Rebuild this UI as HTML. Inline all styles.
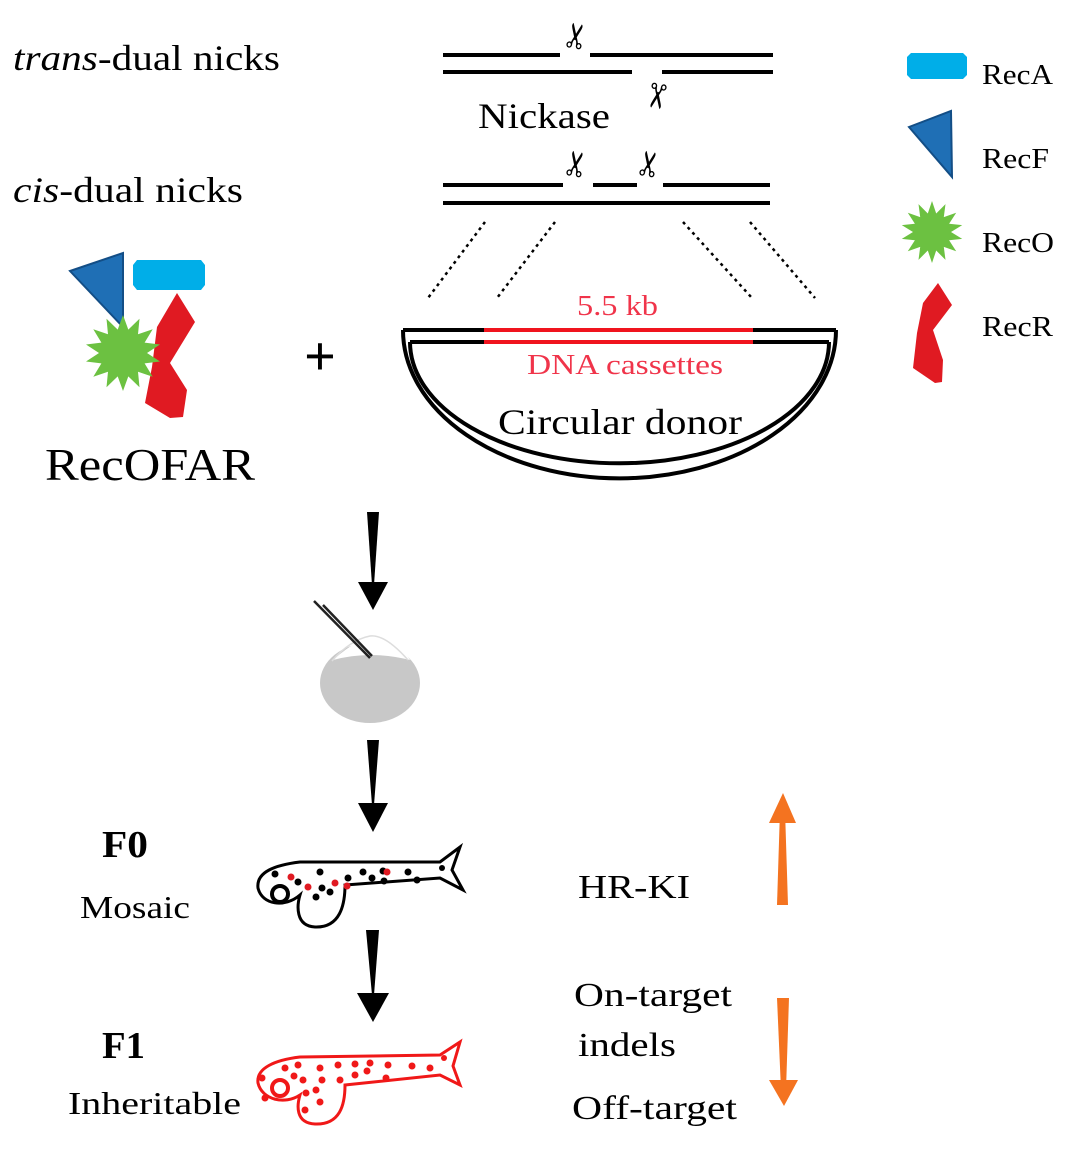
<!DOCTYPE html>
<html><head><meta charset="utf-8"><style>
html,body{margin:0;padding:0;background:#fff;}
svg{display:block;}
text{font-family:"Liberation Serif",serif;}
</style></head><body>
<svg id="s" width="1072" height="1150" viewBox="0 0 1072 1150" xmlns="http://www.w3.org/2000/svg">
<!-- left labels -->
<text x="13" y="70" font-size="36" textLength="267" lengthAdjust="spacingAndGlyphs"><tspan font-style="italic">trans</tspan>-dual nicks</text>
<text x="13" y="202" font-size="36" textLength="230" lengthAdjust="spacingAndGlyphs"><tspan font-style="italic">cis</tspan>-dual nicks</text>

<g stroke="#000" stroke-width="4">
<line x1="443" y1="55" x2="560" y2="55"/><line x1="590" y1="55" x2="773" y2="55"/>
<line x1="443" y1="72" x2="632" y2="72"/><line x1="662" y1="72" x2="773" y2="72"/>
<line x1="443" y1="185" x2="563" y2="185"/><line x1="593" y1="185" x2="637" y2="185"/><line x1="663" y1="185" x2="770" y2="185"/>
<line x1="443" y1="203" x2="770" y2="203"/>
</g>
<g font-family="DejaVu Sans" font-size="34" text-anchor="middle">
<text transform="translate(577,36) rotate(-80)" dy="11">✂</text>
<text transform="translate(656,96) rotate(100)" dy="11">✂</text>
<text transform="translate(577,164) rotate(-80)" dy="11">✂</text>
<text transform="translate(650,164) rotate(-80)" dy="11">✂</text>
</g>
<text x="478" y="128" font-size="36" textLength="132" lengthAdjust="spacingAndGlyphs">Nickase</text>

<g stroke="#000" stroke-width="2.5" stroke-dasharray="3,4">
<line x1="485" y1="222" x2="428" y2="298"/><line x1="555" y1="222" x2="497" y2="298"/>
<line x1="683" y1="222" x2="752" y2="298"/><line x1="750" y1="222" x2="815" y2="298"/>
</g>

<g fill="none" stroke-width="4">
<path d="M403,330 L836,330" stroke="#000"/>
<path d="M410,342 L829,342" stroke="#000"/>
<path d="M484,330 L753,330 M484,342 L753,342" stroke="#f0141e"/>
<path d="M403,330 A216,148 0 0 0 836,330" stroke="#000"/>
<path d="M410,342 A209,121 0 0 0 829,342" stroke="#000"/>
</g>
<text x="577" y="315" font-size="28" fill="#f0344a" textLength="81" lengthAdjust="spacingAndGlyphs">5.5 kb</text>
<text x="527" y="374" font-size="28" fill="#f0344a" textLength="196" lengthAdjust="spacingAndGlyphs">DNA cassettes</text>
<text x="498" y="434" font-size="36" textLength="244" lengthAdjust="spacingAndGlyphs">Circular donor</text>

<text x="320" y="375" font-size="56" font-weight="bold" text-anchor="middle" font-family="Liberation Sans">+</text>

<polygon points="70,271 123,253 123,327" fill="#1f6fb5" stroke="#134e86" stroke-width="2"/>
<path d="M137,260 H201 L205,265 V285 L201,290 H137 L133,285 V265 Z" fill="#00aee8"/>
<polygon points="177,293 195,322 170,363 187,390 183,417 170,418 145,403 152,367 157,327" fill="#e01a22"/>
<polygon id="star1" fill="#6cc141"/>
<text x="45" y="480" font-size="46" textLength="210" lengthAdjust="spacingAndGlyphs">RecOFAR</text>

<path d="M911,53 H963 L967,57 V75 L963,79 H911 L907,75 V57 Z" fill="#00aee8"/>
<polygon points="909,127 951,111 952,177" fill="#1f6fb5" stroke="#134e86" stroke-width="2"/>
<polygon id="star2" fill="#6cc141"/>
<polygon points="938,283 952,305 933,330 943,360 942,382 935,383 913,368 917,333 923,303" fill="#e01a22"/>
<g font-size="28"><text x="982" y="84" textLength="71" lengthAdjust="spacingAndGlyphs">RecA</text><text x="982" y="168" textLength="67" lengthAdjust="spacingAndGlyphs">RecF</text><text x="982" y="252" textLength="72" lengthAdjust="spacingAndGlyphs">RecO</text><text x="982" y="336" textLength="71" lengthAdjust="spacingAndGlyphs">RecR</text></g>

<g fill="#000">
<polygon points="367,512 379,512 374,585 372,585"/><polygon points="358,582 388,582 373,610"/>
<polygon points="367,740 379,740 374,805 372,805"/><polygon points="358,803 388,803 373,832"/>
<polygon points="366,930 379,930 374,995 372,995"/><polygon points="357,993 389,993 373,1022"/>
</g>

<ellipse cx="370" cy="683" rx="50" ry="40" fill="#c8c8c8"/>
<path d="M333,660 Q370,650 410,660 Q395,636 378,636 Q360,636 333,660 Z" fill="#fff"/>
<path d="M332,661 Q350,640 370,636 Q385,634 408,660" fill="none" stroke="#ddd" stroke-width="1.5"/>
<g stroke="#222" stroke-width="2.5"><line x1="314" y1="601" x2="370" y2="658"/><line x1="323" y1="605" x2="372" y2="656"/></g>

<g fill="none" stroke="#000" stroke-width="3">
<path d="M300,862 L440,862 L460,847 L452,870 L463,890 L440,878 L345,885 C345,905 340,928 315,927 C295,926 297,905 300,895 C285,908 262,905 258,888 C256,872 275,865 300,862 Z"/>
<circle cx="280" cy="894" r="8" stroke-width="4"/>
</g>
<g fill="#000">
<circle cx="275" cy="874" r="3.5"/><circle cx="298" cy="882" r="3.5"/><circle cx="320" cy="872" r="3.5"/><circle cx="322" cy="888" r="3.5"/><circle cx="316" cy="897" r="3.5"/><circle cx="330" cy="892" r="3.5"/><circle cx="348" cy="878" r="3.5"/><circle cx="363" cy="872" r="3.5"/><circle cx="372" cy="878" r="3.5"/><circle cx="383" cy="871" r="3.5"/><circle cx="384" cy="881" r="3.5"/><circle cx="408" cy="872" r="3.5"/><circle cx="417" cy="880" r="3.5"/><circle cx="442" cy="868" r="3"/>
</g>
<g fill="#e01a22"><circle cx="291" cy="877" r="3.5"/><circle cx="308" cy="887" r="3.5"/><circle cx="335" cy="883" r="3.5"/><circle cx="347" cy="886" r="3.5"/><circle cx="387" cy="872" r="3.5"/></g>
<text x="102" y="857" font-size="38" font-weight="bold" textLength="46" lengthAdjust="spacingAndGlyphs">F0</text>
<text x="80" y="918" font-size="32" textLength="110" lengthAdjust="spacingAndGlyphs">Mosaic</text>

<g fill="none" stroke="#f01818" stroke-width="3">
<path d="M300,1057 L440,1055 L460,1042 L453,1066 L460,1085 L440,1075 L345,1085 C345,1105 340,1125 315,1124 C295,1123 297,1105 300,1095 C285,1105 262,1100 258,1083 C256,1068 275,1060 300,1057 Z"/>
<circle cx="280" cy="1088" r="8" stroke-width="4"/>
</g>
<g fill="#f01818">
<circle cx="262" cy="1078" r="3.5"/><circle cx="285" cy="1068" r="3.5"/><circle cx="298" cy="1065" r="3.5"/><circle cx="294" cy="1076" r="3.5"/><circle cx="303" cy="1080" r="3.5"/><circle cx="320" cy="1068" r="3.5"/><circle cx="322" cy="1080" r="3.5"/><circle cx="306" cy="1093" r="3.5"/><circle cx="316" cy="1090" r="3.5"/><circle cx="320" cy="1102" r="3.5"/><circle cx="305" cy="1110" r="3.5"/><circle cx="265" cy="1098" r="3.5"/><circle cx="338" cy="1065" r="3.5"/><circle cx="340" cy="1080" r="3.5"/><circle cx="355" cy="1064" r="3.5"/><circle cx="355" cy="1075" r="3.5"/><circle cx="367" cy="1071" r="3.5"/><circle cx="370" cy="1063" r="3.5"/><circle cx="388" cy="1065" r="3.5"/><circle cx="386" cy="1078" r="3.5"/><circle cx="412" cy="1066" r="3.5"/><circle cx="430" cy="1068" r="3.5"/><circle cx="444" cy="1058" r="3"/>
</g>
<text x="102" y="1058" font-size="38" font-weight="bold" textLength="43" lengthAdjust="spacingAndGlyphs">F1</text>
<text x="68" y="1114" font-size="32" textLength="173" lengthAdjust="spacingAndGlyphs">Inheritable</text>

<g font-size="34">
<text x="578" y="898" textLength="112" lengthAdjust="spacingAndGlyphs">HR-KI</text>
<text x="574" y="1006" textLength="158" lengthAdjust="spacingAndGlyphs">On-target</text>
<text x="578" y="1056" textLength="98" lengthAdjust="spacingAndGlyphs">indels</text>
<text x="572" y="1119" textLength="165" lengthAdjust="spacingAndGlyphs">Off-target</text>
</g>
<g fill="#f47320">
<polygon points="777,905 788,905 785,810 780,810"/><polygon points="769,823 796,823 783,793"/>
<polygon points="777,998 789,998 786,1090 781,1090"/><polygon points="769,1080 798,1080 784,1106"/>
</g>
</svg>
<script>
function star(id,cx,cy,ro,ri,n){var p=[];for(var i=0;i<2*n;i++){var r=i%2?ri:ro;var a=Math.PI*i/n-Math.PI/2;p.push((cx+r*Math.cos(a)).toFixed(1)+","+(cy+r*Math.sin(a)).toFixed(1));}document.getElementById(id).setAttribute("points",p.join(" "));}
star("star1",123,353,38,24,14);
star("star2",932,232,31,19,14);
</script>
</body></html>
